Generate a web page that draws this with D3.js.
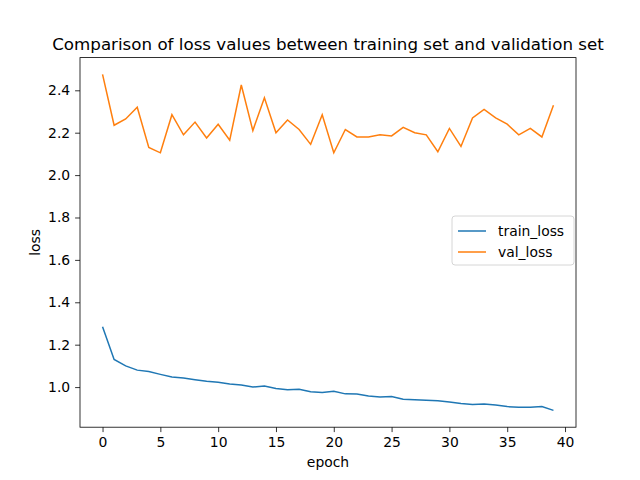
<!DOCTYPE html>
<html><head><meta charset="utf-8">
<script src="https://cdn.jsdelivr.net/npm/d3@7"></script>
<style>body{margin:0;background:#fff}text{font-family:"DejaVu Sans",sans-serif}</style>
</head><body><svg id="c" width="640" height="480"></svg>
<script>
const trainLoss=[1.285,1.13,1.1,1.08,1.073,1.06,1.048,1.043,1.035,1.027,1.023,1.015,1.01,1.0,1.005,0.993,0.987,0.99,0.978,0.975,0.98,0.968,0.967,0.958,0.953,0.955,0.943,0.94,0.938,0.936,0.93,0.923,0.918,0.92,0.915,0.908,0.905,0.905,0.908,0.89];
const valLoss=[2.475,2.235,2.265,2.32,2.13,2.105,2.285,2.19,2.25,2.175,2.24,2.165,2.425,2.21,2.365,2.2,2.26,2.215,2.145,2.285,2.105,2.215,2.18,2.18,2.19,2.185,2.225,2.2,2.19,2.11,2.22,2.135,2.27,2.31,2.27,2.24,2.19,2.22,2.18,2.33];
const xTicks=[0,5,10,15,20,25,30,35,40];
const yTicks=[1.0,1.2,1.4,1.6,1.8,2.0,2.2,2.4];
const seriesNames=["train_loss","val_loss"];
const colors=["#1f77b4","#ff7f0e"];
const L=80,R=576,T=57.6,B=427.2;
const svg=d3.select("#c");
const x=d3.scaleLinear().domain([-1.95,40.95]).range([L,R]);
const all=trainLoss.concat(valLoss);
const mn=d3.min(all),mx=d3.max(all),m=(mx-mn)*0.05;
const y=d3.scaleLinear().domain([mn-m,mx+m]).range([B,T]);
const line=d3.line().x((d,i)=>x(i)).y(d=>y(d));
[trainLoss,valLoss].forEach((s,k)=>svg.append("path").attr("d",line(s)).attr("fill","none").attr("stroke",colors[k]).attr("stroke-width",1.5));
const gx=svg.append("g").attr("transform",`translate(0,${B})`).call(d3.axisBottom(x).tickValues(xTicks).tickSize(4.9).tickPadding(4.9).tickFormat(d3.format("d")));
const gy=svg.append("g").attr("transform",`translate(${L},0)`).call(d3.axisLeft(y).tickValues(yTicks).tickSize(4.9).tickPadding(4.9).tickFormat(d3.format(".1f")));
[gx,gy].forEach(g=>{g.select(".domain").remove();g.selectAll("text").attr("font-size",13.9).attr("fill","#000").style("font-family","DejaVu Sans");g.selectAll("line").attr("stroke","#000").attr("stroke-width",0.8);});
svg.append("rect").attr("x",L).attr("y",T).attr("width",R-L).attr("height",B-T).attr("fill","none").attr("stroke","#000").attr("stroke-width",0.8);
svg.append("text").attr("x",(L+R)/2).attr("y",T-8).attr("text-anchor","middle").attr("font-size",16.7).text("Comparison of loss values between training set and validation set");
svg.append("text").attr("x",(L+R)/2).attr("y",467).attr("text-anchor","middle").attr("font-size",13.9).text("epoch");
svg.append("text").attr("transform",`translate(40,${(T+B)/2}) rotate(-90)`).attr("text-anchor","middle").attr("font-size",13.9).text("loss");
const lg=svg.append("g").attr("transform","translate(452,216)");
lg.append("rect").attr("width",122).attr("height",49).attr("rx",3).attr("fill","#fff").attr("fill-opacity",0.8).attr("stroke","#ccc").attr("stroke-width",0.8);
seriesNames.forEach((n,k)=>{lg.append("line").attr("x1",6).attr("x2",34).attr("y1",15+k*21).attr("y2",15+k*21).attr("stroke",colors[k]).attr("stroke-width",1.5);
lg.append("text").attr("x",46).attr("y",20+k*21).attr("font-size",13.9).text(n);});
</script></body></html>
